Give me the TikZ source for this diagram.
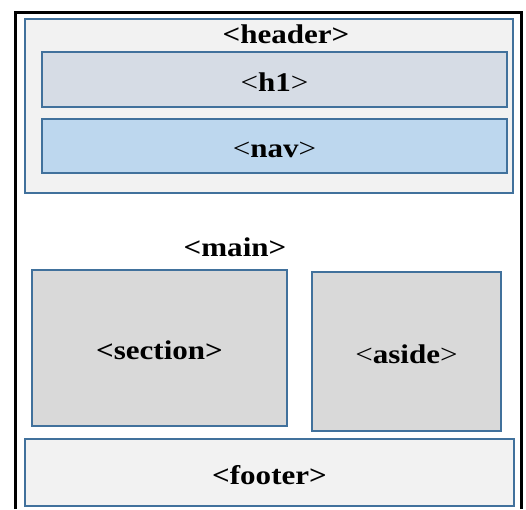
\documentclass[tikz,border=0pt]{standalone}
\usepackage{fontspec}
\setmainfont{Liberation Serif}
\usepackage{graphicx}
\usetikzlibrary{calc}

\definecolor{boxline}{HTML}{41719C}
\definecolor{headfill}{HTML}{F2F2F2}
\definecolor{hfill}{HTML}{D6DCE5}
\definecolor{navfill}{HTML}{BDD7EE}
\definecolor{mainfill}{HTML}{D9D9D9}

\newcommand{\wide}[1]{\scalebox{1.15}[1]{#1}}

\begin{document}
\begin{tikzpicture}[x=1pt,y=-1pt,
    box/.style={draw=boxline, line width=2.6pt, inner sep=0pt},
    every node/.style={font=\fontsize{27}{31}\selectfont, text height=23pt, text depth=0pt}]

    \useasboundingbox (0,0) rectangle (526,509);
    \draw[line width=3pt] (15,509) -- (15,12) -- (521,12) -- (521,509);

    % header block
    \node[box, fill=headfill, minimum width=488pt, minimum height=174pt] (header) at (269,106) {};
    \node (headertxt) at (286,31.5) {\wide{\textbf{<header>}}};
    \node[box, fill=hfill, minimum width=465pt, minimum height=55pt] (h1) at (274.5,79.5) {\wide{<\textbf{h1}>}};
    \node[box, fill=navfill, minimum width=465pt, minimum height=54pt] (nav) at (274.5,146) {\wide{<\textbf{nav}>}};

    % main block
    \node (maintxt) at (235,244.5) {\wide{\textbf{<main>}}};
    \node[box, fill=mainfill, minimum width=255pt, minimum height=156pt] (section) at (159.5,348) {\wide{\textbf{<section>}}};
    \node[box, fill=mainfill, minimum width=189pt, minimum height=159pt] (aside) at (406.5,351.5) {\wide{<\textbf{aside}>}};

    % footer
    \node[box, fill=headfill, minimum width=489pt, minimum height=67pt] (footer) at (269.5,472.5) {\wide{\textbf{<footer>}}};

\end{tikzpicture}
\end{document}
